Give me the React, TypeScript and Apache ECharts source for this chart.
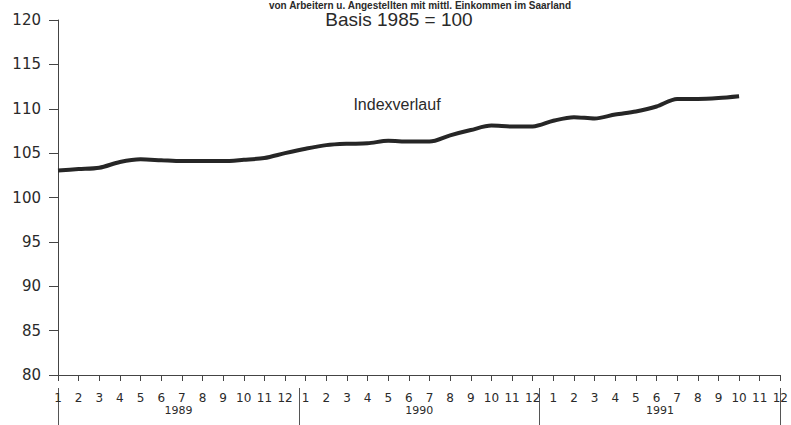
import React, { useEffect, useRef } from "react";
import * as echarts from "echarts";

const years = ["1989", "1990", "1991"];
const monthLabels = ["1", "2", "3", "4", "5", "6", "7", "8", "9", "10", "11", "12"];
const categories = years.flatMap((y) => monthLabels.map((m) => `${m}/${y}`));

// Index values 1989-01 .. 1991-10 (Basis 1985 = 100)
const indexValues = [
  103.05, 103.2, 103.35, 104.0, 104.3, 104.2, 104.1, 104.1, 104.1, 104.25, 104.45, 105.0,
  105.5, 105.9, 106.05, 106.1, 106.4, 106.3, 106.3, 107.0, 107.6, 108.1, 108.0, 108.0,
  108.65, 109.05, 108.9, 109.35, 109.7, 110.25, 111.1, 111.1, 111.2, 111.4,
];

const yTicks = { min: 80, max: 120, interval: 5 };
const titleText = "von Arbeitern u. Angestellten mit mittl. Einkommen im Saarland";
const subtitleText = "Basis 1985 = 100";
const seriesLabel = "Indexverlauf";

export default function App() {
  const ref = useRef<HTMLDivElement>(null);
  useEffect(() => {
    if (!ref.current) return;
    const chart = echarts.init(ref.current, null, { renderer: "svg" });
    const ink = "#2a2a2a";
    chart.setOption({
      animation: false,
      backgroundColor: "#ffffff",
      grid: { left: 58, right: 8, top: 20, bottom: 50, containLabel: false },
      xAxis: [
        {
          type: "category",
          data: categories,
          boundaryGap: false,
          position: "bottom",
          axisLine: { show: true, lineStyle: { color: "#444", width: 1 } },
          axisTick: { show: true, length: 6, inside: false, interval: 0, lineStyle: { color: "#444" } },
          axisLabel: {
            interval: 0,
            margin: 17,
            formatter: (v: string) => v.split("/")[0],
            fontFamily: "DejaVu Sans",
            fontSize: 12,
            color: ink,
          },
          splitLine: { show: false },
        },
        {
          type: "category",
          data: years,
          boundaryGap: true,
          position: "bottom",
          offset: 13,
          axisLine: { show: false },
          axisTick: { show: true, length: 37, inside: false, lineStyle: { color: "#555", width: 1 } },
          axisLabel: {
            margin: 17,
            fontFamily: "DejaVu Sans",
            fontSize: 11,
            color: ink,
          },
          splitLine: { show: false },
        },
      ],
      yAxis: {
        type: "value",
        min: yTicks.min,
        max: yTicks.max,
        interval: yTicks.interval,
        axisLine: { show: true, lineStyle: { color: "#444", width: 1 } },
        axisTick: { show: true, length: 9, inside: false, lineStyle: { color: "#444" } },
        axisLabel: {
          margin: 17,
          fontFamily: "DejaVu Sans",
          fontSize: 15,
          color: ink,
        },
        splitLine: { show: false },
      },
      series: [
        {
          type: "line",
          name: seriesLabel,
          xAxisIndex: 0,
          data: indexValues,
          smooth: 0.3,
          showSymbol: false,
          lineStyle: { color: "#262626", width: 4 },
        },
      ],
      graphic: [
        {
          type: "text",
          x: 420,
          y: 0,
          style: {
            text: titleText,
            fontFamily: "Liberation Sans",
            fontWeight: "bold",
            fontSize: 10,
            fill: ink,
            align: "center",
            verticalAlign: "top",
          },
        },
        {
          type: "text",
          x: 399,
          y: 19,
          style: {
            text: subtitleText,
            fontFamily: "Liberation Sans",
            fontSize: 19,
            fill: ink,
            align: "center",
            verticalAlign: "middle",
          },
        },
        {
          type: "text",
          x: 397,
          y: 104,
          style: {
            text: seriesLabel,
            fontFamily: "Liberation Sans",
            fontSize: 16,
            fill: ink,
            align: "center",
            verticalAlign: "middle",
          },
        },
      ],
    });
    return () => chart.dispose();
  }, []);
  return (
    <div
      ref={ref}
      style={{ position: "fixed", left: 0, top: 0, width: 791, height: 425, background: "#fff" }}
    />
  );
}
